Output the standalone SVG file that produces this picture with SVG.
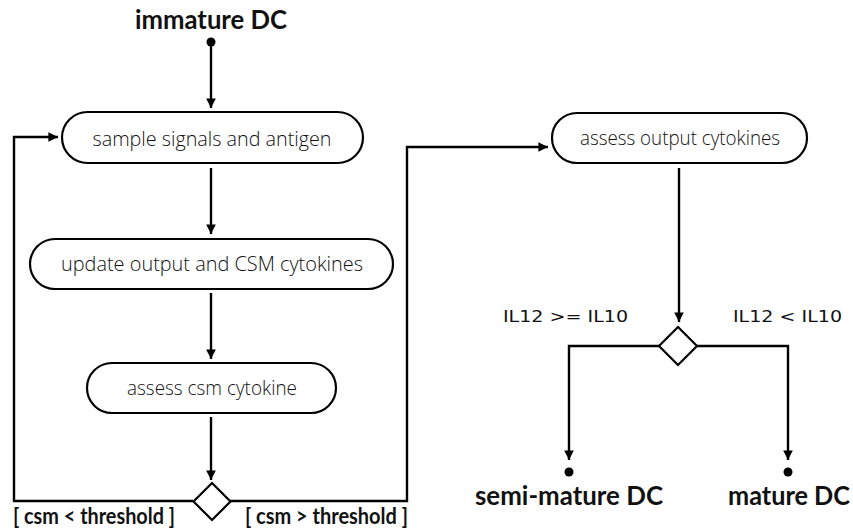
<svg xmlns="http://www.w3.org/2000/svg" width="853" height="532" viewBox="0 0 853 532">
  <defs>
    <marker id="arrow" viewBox="0 0 10 10" refX="10" refY="5" markerWidth="4" markerHeight="4" orient="auto" markerUnits="strokeWidth">
      <path d="M0,0 L10,5 L0,10 z" fill="#000"/>
    </marker>
    <style>
      .box { fill: #fff; stroke: #000; stroke-width: 2.2; }
      .edge { fill: none; stroke: #000; stroke-width: 2.4; }
      .act { font-family: "Open Sans", "Liberation Sans", sans-serif; font-weight: 300; font-size: 21px; fill: #111; text-anchor: middle; }
      .state { font-family: "Lato", "DejaVu Sans", sans-serif; font-weight: 700; font-size: 26px; fill: #111; }
      .guard { font-family: "Lato", "DejaVu Sans", sans-serif; font-weight: 700; font-size: 22px; fill: #111; }
      .cond { font-family: "DejaVu Sans", sans-serif; font-size: 16px; fill: #111; }
      .dot { fill: #000; }
    </style>
  </defs>
  <rect width="853" height="532" fill="#fff"/>

  <!-- connectors -->
  <g id="connectors">
    <path class="edge" d="M211,42 V108" marker-end="url(#arrow)"/>
    <path class="edge" d="M211,168 V234" marker-end="url(#arrow)"/>
    <path class="edge" d="M211,293 V359" marker-end="url(#arrow)"/>
    <path class="edge" d="M211,417 V480" marker-end="url(#arrow)"/>
    <!-- loop back: csm < threshold -->
    <path class="edge" d="M193,501 H14 V137 H58" marker-end="url(#arrow)"/>
    <!-- exit: csm > threshold -->
    <path class="edge" d="M230,501 H407 V147 H548" marker-end="url(#arrow)"/>
    <path class="edge" d="M679,168 V322" marker-end="url(#arrow)"/>
    <path class="edge" d="M660,346 H569 V460" marker-end="url(#arrow)"/>
    <path class="edge" d="M697,346 H788 V460" marker-end="url(#arrow)"/>
  </g>

  <g id="start">
    <circle class="dot" cx="211" cy="42" r="4.5"/>
    <text class="state" x="135" y="29" textLength="152" lengthAdjust="spacingAndGlyphs">immature DC</text>
  </g>

  <g id="sample">
    <rect class="box" x="62" y="112" width="301" height="51" rx="25.5"/>
    <text class="act" x="212" y="146" textLength="239" lengthAdjust="spacingAndGlyphs">sample signals and antigen</text>
  </g>

  <g id="update">
    <rect class="box" x="30" y="239" width="363" height="50" rx="25"/>
    <text class="act" x="212" y="271" textLength="302" lengthAdjust="spacingAndGlyphs">update output and CSM cytokines</text>
  </g>

  <g id="assess-csm">
    <rect class="box" x="87" y="363" width="249" height="50" rx="25"/>
    <text class="act" x="212" y="395" textLength="170" lengthAdjust="spacingAndGlyphs">assess csm cytokine</text>
  </g>

  <g id="decision-csm">
    <polygon class="box" points="212,483 230.5,501.5 212,520 193.5,501.5"/>
    <text class="guard" x="13" y="524" textLength="162" lengthAdjust="spacingAndGlyphs">[ csm &lt; threshold ]</text>
    <text class="guard" x="245" y="524" textLength="163" lengthAdjust="spacingAndGlyphs">[ csm &gt; threshold ]</text>
  </g>

  <g id="assess-output">
    <rect class="box" x="552" y="113" width="255" height="50" rx="25"/>
    <text class="act" x="680" y="145" textLength="200" lengthAdjust="spacingAndGlyphs">assess output cytokines</text>
  </g>

  <g id="decision-il">
    <polygon class="box" points="678,327 697,346 678,365 659,346"/>
    <text class="cond" x="503" y="322" textLength="125" lengthAdjust="spacingAndGlyphs">IL12 &gt;= IL10</text>
    <text class="cond" x="733" y="322" textLength="109" lengthAdjust="spacingAndGlyphs">IL12 &lt; IL10</text>
  </g>

  <g id="semi-mature">
    <circle class="dot" cx="569" cy="472" r="4.5"/>
    <text class="state" x="475" y="505" textLength="188" lengthAdjust="spacingAndGlyphs">semi-mature DC</text>
  </g>

  <g id="mature">
    <circle class="dot" cx="788" cy="472" r="4.5"/>
    <text class="state" x="728" y="505" textLength="122" lengthAdjust="spacingAndGlyphs">mature DC</text>
  </g>
</svg>
